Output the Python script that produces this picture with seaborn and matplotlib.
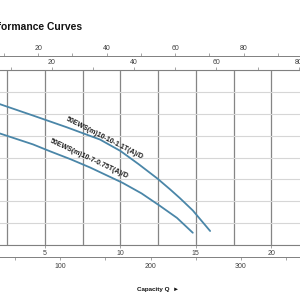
import matplotlib
matplotlib.use('Agg')
import pandas as pd
import matplotlib.pyplot as plt
from matplotlib.ticker import MultipleLocator, NullFormatter, FuncFormatter
import seaborn as sns

# ── Data (Q in m3/h, H in m) ─────────────────────────────────────────────────
q_upper = [0.0, 2.0, 4.2, 6.45, 8.65, 10.0, 11.2, 12.45, 13.3, 13.95, 14.8, 15.95]
h_upper = [17.0, 16.1, 14.8, 13.45, 12.05, 10.75, 9.25, 7.6, 6.35, 5.35, 3.95, 1.6]
q_lower = [0.0, 2.0, 4.2, 5.35, 6.7, 8.0, 10.15, 11.4, 12.6, 13.75, 14.8]
h_lower = [13.8, 12.75, 11.5, 10.7, 9.8, 8.85, 7.1, 5.9, 4.5, 3.1, 1.4]
curve_labels = ['50EWS(m)10-10-1.1T(A)/D', '50EWS(m)10-7-0.75T(A)/D']
label_pos = [(8.95, 12.2), (7.95, 9.85)]   # (Q, H) centre of each label
label_rot = [-27, -25]

df = pd.concat([
    pd.DataFrame({'Q': q_upper, 'H': h_upper, 'model': curve_labels[0]}),
    pd.DataFrame({'Q': q_lower, 'H': h_lower, 'model': curve_labels[1]}),
])

# ── Style ────────────────────────────────────────────────────────────────────
sns.set_style('white')
plt.rcParams['font.family'] = ['Liberation Sans', 'DejaVu Sans']

BLUE = '#4a86a8'
AX = '#808080'
TXT = '#404040'

fig = plt.figure(figsize=(3, 3), dpi=100)
# plot frame spans pixels x -30 .. 309, y 70 .. 245 (partly outside the crop)
ax = fig.add_axes([-30.4 / 300, 55 / 300, 339.3 / 300, 175 / 300])

sns.lineplot(data=df, x='Q', y='H', hue='model', palette=[BLUE, BLUE],
             sort=False, estimator=None, lw=1.3, legend=False, ax=ax)

for lab, (xq, yh), rot in zip(curve_labels, label_pos, label_rot):
    ax.text(xq, yh, lab, rotation=rot, rotation_mode='anchor',
            ha='center', va='center', fontsize=5, fontweight='bold', color='#1a1a1a')

ax.set_xlim(0, 22.5)
ax.set_ylim(0, 20)
ax.set_xlabel('')
ax.set_ylabel('')

# grid
ax.xaxis.set_major_locator(MultipleLocator(5))
ax.xaxis.set_minor_locator(MultipleLocator(2.5))
ax.yaxis.set_major_locator(MultipleLocator(2.5))
ax.grid(True, axis='x', which='both', color='#858585', lw=0.9)
ax.grid(True, axis='y', which='major', color='#d6d6d6', lw=0.8)
ax.set_axisbelow(True)
ax.set_yticklabels([])
ax.xaxis.set_major_formatter(FuncFormatter(lambda v, p: '' if v == 0 else f'{v:g}'))
ax.tick_params(axis='x', which='both', labelsize=5, length=2, width=0.5,
               pad=1.5, colors=AX, labelcolor=TXT, bottom=True)
ax.tick_params(axis='x', which='minor', bottom=False)
ax.tick_params(axis='y', left=False)
for s in ['top', 'bottom']:
    ax.spines[s].set_color(AX)
    ax.spines[s].set_linewidth(0.8)
for s in ['left', 'right']:
    ax.spines[s].set_visible(False)


def sec_axis(loc, where, fwd, inv, major, minor, pad):
    sa = ax.secondary_xaxis(loc, functions=(fwd, inv))
    sa.xaxis.set_major_locator(MultipleLocator(major))
    sa.xaxis.set_minor_locator(MultipleLocator(minor))
    sa.xaxis.set_major_formatter(FuncFormatter(lambda v, p: '' if v == 0 else f'{v:g}'))
    sa.xaxis.set_minor_formatter(NullFormatter())
    sa.tick_params(which='both', labelsize=5, length=2, width=0.5, pad=pad,
                   colors=AX, labelcolor=TXT)
    sa.spines[where].set_color(AX)
    sa.spines[where].set_linewidth(0.7)
    return sa


# IGPM on the frame top, US GPM above it, L/min below the m3/h axis
sec_axis('top', 'top', lambda q: q * 3.6662, lambda g: g / 3.6662, 20, 10, 1.0)
sec_axis(1 + 14 / 175, 'top', lambda q: q * 4.4029, lambda g: g / 4.4029, 20, 10, 1.0)
sec_axis(-12 / 175, 'bottom', lambda q: q * 1000 / 60, lambda l: l * 60 / 1000, 100, 50, 2.5)

fig.text(82 / 300, 1 - 27 / 300, 'Performance Curves', ha='right', va='center',
         fontsize=7.4, fontweight='bold', color='#111111')
fig.text(137 / 300, 1 - 289 / 300, 'Capacity Q  \u25ba', ha='left', va='center',
         fontsize=4.5, fontweight='bold', color='#111111')

fig.savefig('out.png', dpi=100)
